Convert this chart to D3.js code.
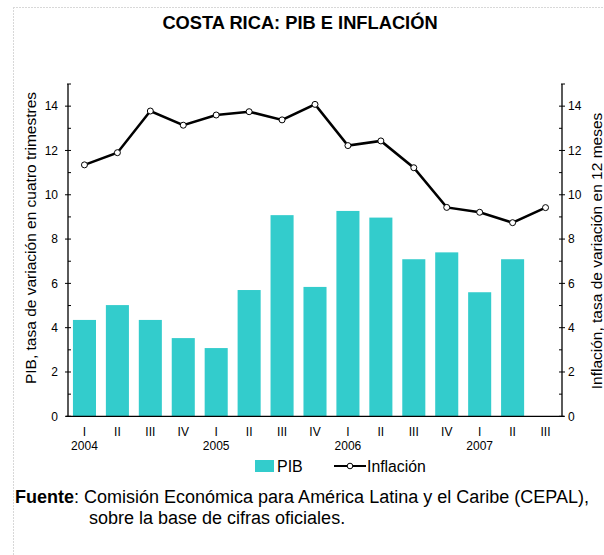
<!DOCTYPE html>
<html lang="es">
<head>
<meta charset="utf-8">
<title>Costa Rica: PIB e inflación</title>
<style>
 body { margin: 0; background: #fff; font-family: Arial, "Liberation Sans", sans-serif; }
 svg text { fill: #000; }
</style>
<script src="https://d3js.org/d3.v7.min.js"></script>
</head>
<body>
<svg id="chart" width="604" height="555"></svg>
<script>
 // Data
 const quarters = ['I', 'II', 'III', 'IV', 'I', 'II', 'III', 'IV', 'I', 'II', 'III', 'IV', 'I', 'II', 'III'];
 const years = [{label: '2004', at: 0}, {label: '2005', at: 4}, {label: '2006', at: 8}, {label: '2007', at: 12}];
 const pib = [4.35, 5.02, 4.35, 3.53, 3.08, 5.70, 9.08, 5.84, 9.27, 8.97, 7.09, 7.40, 5.60, 7.09];
 const inflacion = [11.35, 11.9, 13.78, 13.14, 13.6, 13.75, 13.38, 14.08, 12.22, 12.43, 11.22, 9.43, 9.21, 8.74, 9.42];
 const yTicks = [0, 2, 4, 6, 8, 10, 12, 14];

 const svg = d3.select('#chart');
 const keys = quarters.map((q, i) => i);

 // page frame (dotted)
 svg.append('line').attr('x1', 13).attr('x2', 604).attr('y1', 7.5).attr('y2', 7.5)
    .attr('stroke', '#d8d8d8').attr('stroke-dasharray', '2,1');
 svg.append('line').attr('x1', 13.5).attr('x2', 13.5).attr('y1', 7).attr('y2', 555)
    .attr('stroke', '#d8d8d8').attr('stroke-dasharray', '2,1');

 // Title
 svg.append('text').attr('x', 300).attr('y', 29).attr('text-anchor', 'middle')
    .style('font-size', '18.3px').style('font-weight', 'bold')
    .text('COSTA RICA: PIB E INFLACIÓN');

 // Scales
 const x = d3.scaleBand().domain(keys).range([68, 562]).paddingInner(0.3).paddingOuter(0.15);
 const y = d3.scaleLinear().domain([0, 15]).range([416.3, 84]);
 const cx = i => x(i) + x.bandwidth() / 2;

 // Bars
 svg.selectAll('rect.bar').data(pib).join('rect').attr('class', 'bar')
    .attr('x', (d, i) => x(i)).attr('width', x.bandwidth())
    .attr('y', d => y(d)).attr('height', d => y(0) - y(d))
    .attr('fill', '#33cccc');

 // Axes
 const minor = d3.range(1, 15, 2);
 function yAxis(side, xPos) {
     const g = svg.append('g');
     g.append('line').attr('x1', xPos).attr('x2', xPos).attr('y1', y(15)).attr('y2', y(0))
      .attr('stroke', '#000').attr('stroke-width', 1.3);
     g.append('line').attr('x1', xPos - 1).attr('x2', xPos + 3).attr('y1', y(15)).attr('y2', y(15))
      .attr('stroke', '#000').attr('stroke-width', 1);
     g.selectAll('line.maj').data(yTicks).join('line').attr('class', 'maj')
      .attr('x1', xPos - 3).attr('x2', xPos + 3).attr('y1', d => y(d)).attr('y2', d => y(d))
      .attr('stroke', '#000');
     g.selectAll('line.min').data(minor).join('line').attr('class', 'min')
      .attr('x1', side === 'left' ? xPos : xPos - 3).attr('x2', side === 'left' ? xPos + 3 : xPos)
      .attr('y1', d => y(d)).attr('y2', d => y(d)).attr('stroke', '#000');
     g.selectAll('text').data(yTicks).join('text')
      .attr('x', side === 'left' ? xPos - 10 : xPos + 6).attr('y', d => y(d)).attr('dy', '0.35em')
      .attr('text-anchor', side === 'left' ? 'end' : 'start')
      .style('font-size', '12px').text(d => d);
 }
 yAxis('left', 68);
 yAxis('right', 562);

 // X axis line
 svg.append('line').attr('x1', 66).attr('x2', 564).attr('y1', y(0)).attr('y2', y(0))
    .attr('stroke', '#000').attr('stroke-width', 1.3);
 svg.selectAll('text.q').data(quarters).join('text').attr('class', 'q')
    .attr('x', (d, i) => cx(i)).attr('y', 436).attr('text-anchor', 'middle')
    .style('font-size', '12px').text(d => d);
 svg.selectAll('text.yr').data(years).join('text').attr('class', 'yr')
    .attr('x', d => cx(d.at)).attr('y', 449.5).attr('text-anchor', 'middle')
    .style('font-size', '12px').text(d => d.label);

 // Axis titles
 svg.append('text').attr('transform', 'translate(36,238) rotate(-90)').attr('text-anchor', 'middle')
    .style('font-size', '15.5px').text('PIB, tasa de variación en cuatro trimestres');
 svg.append('text').attr('transform', 'translate(602,251) rotate(-90)').attr('text-anchor', 'middle')
    .style('font-size', '15.5px').text('Inflación, tasa de variación en 12 meses');

 // Line
 const line = d3.line().x((d, i) => cx(i)).y(d => y(d));
 svg.append('path').datum(inflacion).attr('d', line)
    .attr('fill', 'none').attr('stroke', '#000').attr('stroke-width', 2.5);
 svg.selectAll('circle.pt').data(inflacion).join('circle').attr('class', 'pt')
    .attr('cx', (d, i) => cx(i)).attr('cy', d => y(d)).attr('r', 3)
    .attr('fill', '#fff').attr('stroke', '#000').attr('stroke-width', 1);

 // Legend
 const lg = svg.append('g');
 lg.append('rect').attr('x', 255).attr('y', 460).attr('width', 19).attr('height', 12).attr('fill', '#33cccc');
 lg.append('text').attr('x', 277).attr('y', 466).attr('dy', '0.35em').style('font-size', '16px').text('PIB');
 lg.append('line').attr('x1', 334).attr('x2', 366).attr('y1', 466).attr('y2', 466)
   .attr('stroke', '#000').attr('stroke-width', 2);
 lg.append('circle').attr('cx', 350).attr('cy', 466).attr('r', 2.8).attr('fill', '#fff').attr('stroke', '#000');
 lg.append('text').attr('x', 367).attr('y', 466).attr('dy', '0.35em').style('font-size', '15.8px').text('Inflación');

 // Source
 const src = svg.append('text').attr('x', 15).attr('y', 497).attr('dy', '0.35em').style('font-size', '18px');
 src.append('tspan').style('font-weight', 'bold').text('Fuente');
 src.append('tspan').text(': Comisión Económica para América Latina y el Caribe (CEPAL),');
 svg.append('text').attr('x', 89).attr('y', 518).attr('dy', '0.35em').style('font-size', '18px')
    .text('sobre la base de cifras oficiales.');
</script>
</body>
</html>
